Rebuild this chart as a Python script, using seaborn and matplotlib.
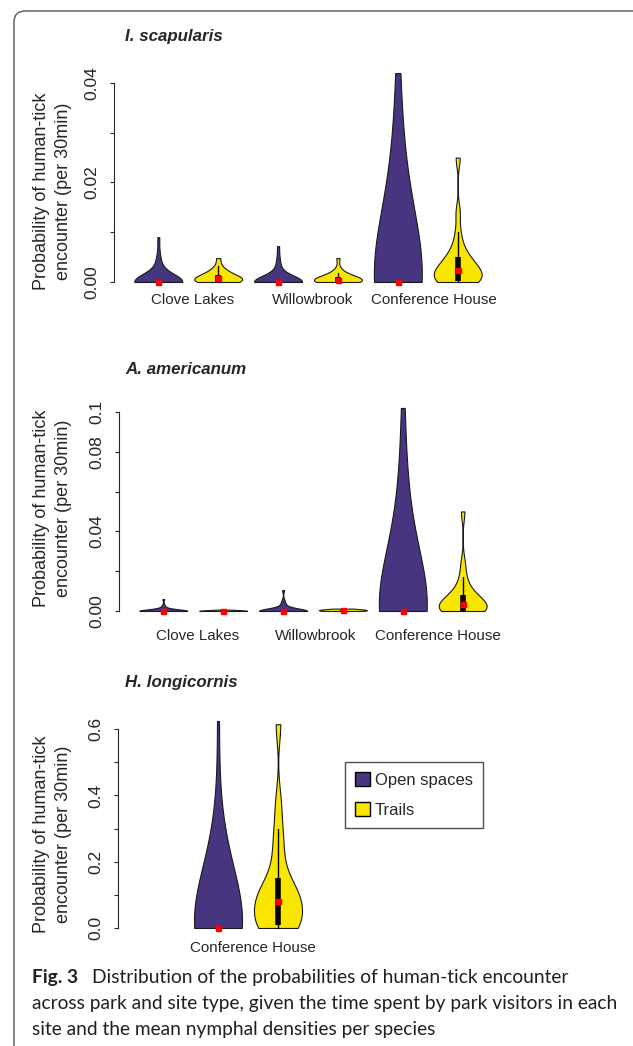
import numpy as np
import pandas as pd
import matplotlib
matplotlib.use("Agg")
import matplotlib.pyplot as plt
import matplotlib.transforms as mtransforms
from matplotlib.patches import FancyBboxPatch, Patch
import seaborn as sns

sns.set_style("ticks")
plt.rcParams['font.family'] = ['Liberation Sans', 'DejaVu Sans']

OPEN = "#48357F"
TRAIL = "#F8E500"

# ---- I. scapularis (probability per 30 min) ----
isc_clove_open = [0, 0, 0, 0, 0, 0, 0, 0, 0, 0, 0, 0, 0, 0, 0, 0, 0, 0, 0, 0, 0, 0, 0, 0, 0,
                  0.0008, 0.0015, 0.0022, 0.003, 0.004, 0.0055, 0.009]
isc_clove_trail = [0, 0, 0, 0, 0, 0,
                   0.0002, 0.0004, 0.0005, 0.0007, 0.0008, 0.0009, 0.001, 0.0012, 0.0013,
                   0.0015, 0.0018, 0.0021, 0.0025, 0.0032, 0.0048]
isc_willow_open = [0, 0, 0, 0, 0, 0, 0, 0, 0, 0, 0, 0, 0, 0, 0, 0, 0, 0, 0, 0, 0, 0, 0, 0, 0,
                   0.0006, 0.0012, 0.0018, 0.0025, 0.0035, 0.0048, 0.0072]
isc_willow_trail = [0, 0, 0, 0, 0, 0,
                    0.0001, 0.0002, 0.0003, 0.0004, 0.0005, 0.0006, 0.0007, 0.0008, 0.0009,
                    0.001, 0.0012, 0.0015, 0.0019, 0.0026, 0.0048]
isc_conf_open = [0, 0, 0, 0, 0, 0, 0, 0, 0, 0, 0, 0, 0, 0, 0, 0, 0, 0, 0, 0, 0, 0, 0, 0, 0,
                 0.008, 0.012, 0.016, 0.019, 0.022, 0.026, 0.031, 0.042]
isc_conf_trail = [0, 0, 0, 0, 0, 0,
                  0.001, 0.0015, 0.0018, 0.002, 0.0022, 0.0025, 0.003, 0.0035, 0.004, 0.0045,
                  0.0052, 0.0062, 0.0075, 0.01, 0.014, 0.025]
isc_bandwidth = [0.0015, 0.0008, 0.0012, 0.0008, 0.013, 0.0018]

# ---- A. americanum ----
ame_clove_open = [0, 0, 0, 0, 0, 0, 0, 0, 0, 0, 0, 0, 0, 0, 0, 0, 0, 0, 0, 0, 0, 0, 0, 0, 0,
                  0.0004, 0.0008, 0.0013, 0.002, 0.003, 0.006]
ame_clove_trail = [0, 0, 0, 0, 0, 0, 0, 0, 0, 0, 0,
                   0.00005, 0.0001, 0.00015, 0.0002, 0.00025, 0.0003, 0.00035, 0.0004, 0.0005, 0.0007]
ame_willow_open = [0, 0, 0, 0, 0, 0, 0, 0, 0, 0, 0, 0, 0, 0, 0, 0, 0, 0, 0, 0, 0, 0, 0, 0, 0,
                   0.0008, 0.0015, 0.0022, 0.003, 0.004, 0.0055, 0.0105]
ame_willow_trail = [0, 0, 0, 0, 0.0001, 0.0002, 0.0003, 0.0004, 0.0005, 0.00055, 0.0006,
                    0.0007, 0.0008, 0.0009, 0.001, 0.0012]
ame_conf_open = [0, 0, 0, 0, 0, 0, 0, 0, 0, 0, 0, 0, 0, 0, 0, 0, 0, 0, 0, 0, 0, 0, 0, 0, 0,
                 0.017, 0.025, 0.034, 0.042, 0.05, 0.058, 0.072, 0.102]
ame_conf_trail = [0, 0, 0, 0, 0, 0,
                  0.001, 0.0015, 0.002, 0.003, 0.0035, 0.004, 0.005, 0.006, 0.007, 0.008,
                  0.01, 0.013, 0.017, 0.024, 0.05]
ame_bandwidth = [0.0008, 0.0003, 0.0012, 0.0004, 0.028, 0.0045]

# ---- H. longicornis (Conference House only) ----
hlo_conf_open = [0, 0, 0, 0, 0, 0, 0, 0, 0, 0, 0, 0, 0, 0, 0, 0, 0, 0, 0, 0, 0, 0, 0, 0, 0,
                 0.08, 0.12, 0.15, 0.18, 0.21, 0.24, 0.27, 0.625]
hlo_conf_trail = [0, 0, 0, 0, 0,
                  0.01, 0.04, 0.06, 0.07, 0.075, 0.08, 0.09, 0.1, 0.12, 0.13, 0.15, 0.2,
                  0.25, 0.3, 0.38, 0.615]
hlo_bandwidth = [0.155, 0.05]

types = ["Open spaces", "Trails"]
slots6 = ["CL-O", "CL-T", "WB-O", "WB-T", "CH-O", "CH-T"]
slots3 = ["none", "CH-O", "CH-T"]
parks6 = ["Clove Lakes", "Willowbrook", "Conference House"]
parks3 = ["Conference House"]

W, H = 633, 1046
fig = plt.figure(figsize=(W / 100, H / 100), dpi=100)


def rect(left, top, right, bottom):
    return [left / W, 1 - bottom / H, (right - left) / W, (bottom - top) / H]


def draw_panel(ax, groups, slots, bws, ylim, yticks, ylabels, xticks, xlabels, xpad):
    for (slot, kind, vals), bw in zip(groups, bws):
        v = np.asarray(vals, dtype=float)
        df = pd.DataFrame({"slot": slot, "type": kind, "value": v})
        sns.violinplot(data=df, x="slot", y="value", hue="type", order=slots,
                       hue_order=types, palette={"Open spaces": OPEN, "Trails": TRAIL},
                       dodge=False, cut=0, density_norm="width", width=0.8,
                       inner=None, linewidth=0.8, linecolor="#1a1a1a", saturation=1,
                       bw_method=bw / v.std(ddof=1), legend=False, ax=ax)
        q1, med, q3 = np.percentile(v, [25, 50, 75])
        iqr = q3 - q1
        lo = v[v >= q1 - 1.5 * iqr].min()
        hi = v[v <= q3 + 1.5 * iqr].max()
        x = slots.index(slot)
        if hi > lo:
            ax.plot([x, x], [lo, hi], color="black", lw=1, zorder=3)
        if q3 > q1:
            ax.plot([x, x], [q1, q3], color="black", lw=4, solid_capstyle="butt", zorder=4)
        ax.plot([x], [med], marker="s", ms=3.6, color="red", mec="red", zorder=5)

    ax.set_ylim(*ylim)
    ax.set_yticks(yticks)
    ax.set_yticklabels(ylabels, rotation=90, va="center", fontsize=12.5)
    ax.set_xticks(xticks)
    ax.set_xticklabels(xlabels, fontsize=10.9)
    ax.set_xlabel("")
    ax.set_ylabel("")
    sns.despine(ax=ax, bottom=True)
    ax.spines["left"].set_bounds(yticks[0], yticks[-1])
    ax.spines["left"].set_linewidth(0.8)
    ax.tick_params(axis="y", direction="out", length=3.2, width=0.8, pad=7)
    ax.tick_params(axis="x", length=0, pad=xpad)
    ax.patch.set_alpha(0)


# panel 1
ax1 = fig.add_axes(rect(114, 65, 502, 290))
draw_panel(ax1,
           [("CL-O", "Open spaces", isc_clove_open), ("CL-T", "Trails", isc_clove_trail),
            ("WB-O", "Open spaces", isc_willow_open), ("WB-T", "Trails", isc_willow_trail),
            ("CH-O", "Open spaces", isc_conf_open), ("CH-T", "Trails", isc_conf_trail)],
           slots6, isc_bandwidth,
           (-0.00161, 0.04362), [0, 0.01, 0.02, 0.03, 0.04],
           ["0.00", "", "0.02", "", "0.04"],
           [0.57, 2.57, 4.6], parks6, 2.4)
ax1.set_xlim(-0.74, 5.74)

# panel 2
ax2 = fig.add_axes(rect(119, 395, 507, 619))
draw_panel(ax2,
           [("CL-O", "Open spaces", ame_clove_open), ("CL-T", "Trails", ame_clove_trail),
            ("WB-O", "Open spaces", ame_willow_open), ("WB-T", "Trails", ame_willow_trail),
            ("CH-O", "Open spaces", ame_conf_open), ("CH-T", "Trails", ame_conf_trail)],
           slots6, ame_bandwidth,
           (-0.00402, 0.1085), [0, 0.02, 0.04, 0.06, 0.08, 0.1],
           ["0.00", "", "0.04", "", "0.08", "0.1"],
           [0.57, 2.55, 4.58], parks6, 7.3)
ax2.set_xlim(-0.74, 5.74)

# panel 3
ax3 = fig.add_axes(rect(118, 712, 315, 936))
draw_panel(ax3,
           [("CH-O", "Open spaces", hlo_conf_open), ("CH-T", "Trails", hlo_conf_trail)],
           slots3, hlo_bandwidth,
           (-0.0242, 0.652), [0, 0.1, 0.2, 0.3, 0.4, 0.5, 0.6],
           ["0.0", "", "0.2", "", "0.4", "", "0.6"],
           [1.58], parks3, 3.9)
ax3.set_xlim(-0.667, 2.617)

# titles and y labels
for title, ty, ly in [("I. scapularis", 37, 191), ("A. americanum", 370, 508),
                      ("H. longicornis", 683, 834)]:
    fig.text(125 / W, 1 - ty / H, title, fontsize=12.2, fontweight="bold", style="italic",
             ha="left", va="center")
    fig.text(42 / W, 1 - ly / H, "Probability of human-tick", rotation=90,
             fontsize=13, ha="center", va="center")
    fig.text(63 / W, 1 - ly / H, "encounter (per 30min)", rotation=90,
             fontsize=13, ha="center", va="center")

# legend
handles = [Patch(facecolor=OPEN, edgecolor="black", lw=1, label="Open spaces"),
           Patch(facecolor=TRAIL, edgecolor="black", lw=1, label="Trails")]
leg = fig.legend(handles=handles, loc="upper left", bbox_to_anchor=(345 / W, 1 - 762 / H),
                 borderaxespad=0, frameon=True, fancybox=False, edgecolor="#222222",
                 prop={"size": 12}, handlelength=0.88, handleheight=0.88,
                 handletextpad=0.3, labelspacing=0.88, borderpad=0.6)
leg.get_frame().set_linewidth(1.0)

# caption
cap_font = ['Lato', 'DejaVu Sans']
cap_size = 13.8
fig.text(32 / W, 1 - 977 / H, "Fig. 3", fontsize=cap_size, fontweight="bold",
         family=cap_font, color="#231F20", ha="left", va="center")
fig.text(92 / W, 1 - 977 / H, "Distribution of the probabilities of human-tick encounter",
         fontsize=cap_size, family=cap_font, color="#231F20", ha="left", va="center")
fig.text(32 / W, 1 - 1003 / H,
         "across park and site type, given the time spent by park visitors in each",
         fontsize=cap_size, family=cap_font, color="#231F20", ha="left", va="center")
fig.text(32 / W, 1 - 1029 / H, "site and the mean nymphal densities per species",
         fontsize=cap_size, family=cap_font, color="#231F20", ha="left", va="center")

# rounded frame
frame = FancyBboxPatch((14, -60), 700, H - 11 + 60, boxstyle="round,pad=0,rounding_size=11",
                       transform=mtransforms.IdentityTransform(), facecolor="none",
                       edgecolor="#555555", lw=1.0)
fig.add_artist(frame)

fig.savefig("out.png", dpi=100)
